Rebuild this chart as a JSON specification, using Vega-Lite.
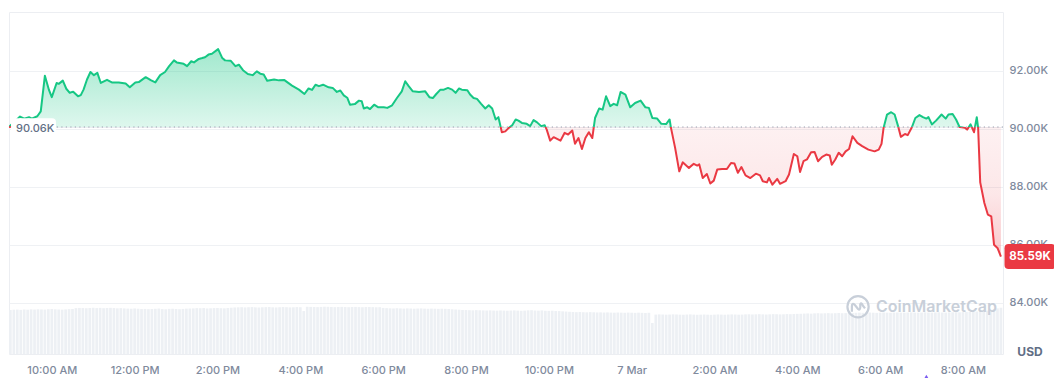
{
  "$schema": "https://vega.github.io/schema/vega-lite/v6.json",
  "padding": {"left": 7, "top": 11, "right": 0, "bottom": 0},
  "background": "white",
  "config": {
    "view": {"stroke": "#eceef2", "strokeWidth": 1},
    "font": "Inter",
    "scale": {"continuousPadding": 0},
    "axis": {"labelFont": "Inter", "labelFontSize": 11, "labelColor": "#808a9d", "labelFontWeight": 500, "domain": false, "ticks": false, "title": null, "zindex": 0, "gridColor": "#eff1f4", "labelOverlap": false}
  },
  "datasets": {
    "price": [
      {"t":"2025-03-06T08:58","p":90060},{"t":"2025-03-06T09:05","p":90220},{"t":"2025-03-06T09:14","p":90420},{"t":"2025-03-06T09:20","p":90350},{"t":"2025-03-06T09:27","p":90400},{"t":"2025-03-06T09:31","p":90350},{"t":"2025-03-06T09:39","p":90430},{"t":"2025-03-06T09:44","p":90600},{"t":"2025-03-06T09:50","p":91830},{"t":"2025-03-06T09:56","p":91330},
      {"t":"2025-03-06T10:00","p":91090},{"t":"2025-03-06T10:07","p":91580},{"t":"2025-03-06T10:10","p":91550},{"t":"2025-03-06T10:16","p":91660},{"t":"2025-03-06T10:21","p":91380},{"t":"2025-03-06T10:26","p":91240},{"t":"2025-03-06T10:31","p":91280},{"t":"2025-03-06T10:38","p":91120},{"t":"2025-03-06T10:42","p":91160},{"t":"2025-03-06T10:46","p":91350},
      {"t":"2025-03-06T10:51","p":91700},{"t":"2025-03-06T10:56","p":91960},{"t":"2025-03-06T11:01","p":91850},{"t":"2025-03-06T11:06","p":91930},{"t":"2025-03-06T11:11","p":91580},{"t":"2025-03-06T11:20","p":91690},{"t":"2025-03-06T11:27","p":91600},{"t":"2025-03-06T11:37","p":91600},{"t":"2025-03-06T11:47","p":91560},{"t":"2025-03-06T11:53","p":91430},
      {"t":"2025-03-06T12:01","p":91600},{"t":"2025-03-06T12:06","p":91610},{"t":"2025-03-06T12:16","p":91780},{"t":"2025-03-06T12:24","p":91670},{"t":"2025-03-06T12:30","p":91600},{"t":"2025-03-06T12:37","p":91850},{"t":"2025-03-06T12:44","p":91960},{"t":"2025-03-06T12:50","p":92160},{"t":"2025-03-06T12:57","p":92360},{"t":"2025-03-06T13:01","p":92290},
      {"t":"2025-03-06T13:11","p":92240},{"t":"2025-03-06T13:16","p":92160},{"t":"2025-03-06T13:22","p":92330},{"t":"2025-03-06T13:26","p":92290},{"t":"2025-03-06T13:33","p":92410},{"t":"2025-03-06T13:38","p":92440},{"t":"2025-03-06T13:42","p":92470},{"t":"2025-03-06T13:47","p":92560},{"t":"2025-03-06T13:52","p":92590},{"t":"2025-03-06T14:01","p":92750},
      {"t":"2025-03-06T14:07","p":92440},{"t":"2025-03-06T14:11","p":92360},{"t":"2025-03-06T14:19","p":92350},{"t":"2025-03-06T14:26","p":92160},{"t":"2025-03-06T14:31","p":92210},{"t":"2025-03-06T14:37","p":92020},{"t":"2025-03-06T14:44","p":91890},{"t":"2025-03-06T14:51","p":91850},{"t":"2025-03-06T14:57","p":91980},{"t":"2025-03-06T15:02","p":91900},
      {"t":"2025-03-06T15:07","p":91870},{"t":"2025-03-06T15:12","p":91660},{"t":"2025-03-06T15:22","p":91700},{"t":"2025-03-06T15:29","p":91670},{"t":"2025-03-06T15:37","p":91680},{"t":"2025-03-06T15:48","p":91490},{"t":"2025-03-06T15:58","p":91350},{"t":"2025-03-06T16:06","p":91200},{"t":"2025-03-06T16:12","p":91390},{"t":"2025-03-06T16:17","p":91340},
      {"t":"2025-03-06T16:22","p":91520},{"t":"2025-03-06T16:27","p":91470},{"t":"2025-03-06T16:33","p":91520},{"t":"2025-03-06T16:41","p":91430},{"t":"2025-03-06T16:47","p":91410},{"t":"2025-03-06T16:53","p":91270},{"t":"2025-03-06T16:58","p":91320},{"t":"2025-03-06T17:03","p":91150},{"t":"2025-03-06T17:08","p":91070},{"t":"2025-03-06T17:12","p":90830},
      {"t":"2025-03-06T17:19","p":90850},{"t":"2025-03-06T17:25","p":90970},{"t":"2025-03-06T17:29","p":90950},{"t":"2025-03-06T17:32","p":90700},{"t":"2025-03-06T17:37","p":90740},{"t":"2025-03-06T17:41","p":90680},{"t":"2025-03-06T17:47","p":90830},{"t":"2025-03-06T17:53","p":90740},{"t":"2025-03-06T18:01","p":90740},{"t":"2025-03-06T18:06","p":90720},
      {"t":"2025-03-06T18:13","p":90810},{"t":"2025-03-06T18:20","p":91060},{"t":"2025-03-06T18:27","p":91290},{"t":"2025-03-06T18:32","p":91640},{"t":"2025-03-06T18:37","p":91470},{"t":"2025-03-06T18:43","p":91290},{"t":"2025-03-06T18:52","p":91270},{"t":"2025-03-06T19:01","p":91290},{"t":"2025-03-06T19:07","p":91090},{"t":"2025-03-06T19:12","p":91060},
      {"t":"2025-03-06T19:17","p":91200},{"t":"2025-03-06T19:23","p":91350},{"t":"2025-03-06T19:28","p":91350},{"t":"2025-03-06T19:34","p":91410},{"t":"2025-03-06T19:40","p":91350},{"t":"2025-03-06T19:45","p":91240},{"t":"2025-03-06T19:50","p":91390},{"t":"2025-03-06T19:54","p":91350},{"t":"2025-03-06T20:02","p":91330},{"t":"2025-03-06T20:06","p":91180},
      {"t":"2025-03-06T20:11","p":91060},{"t":"2025-03-06T20:16","p":91030},{"t":"2025-03-06T20:22","p":90860},{"t":"2025-03-06T20:28","p":90700},{"t":"2025-03-06T20:33","p":90810},{"t":"2025-03-06T20:38","p":90700},{"t":"2025-03-06T20:43","p":90320},{"t":"2025-03-06T20:47","p":90400},{"t":"2025-03-06T20:52","p":89880},{"t":"2025-03-06T20:57","p":89910},
      {"t":"2025-03-06T21:02","p":90030},{"t":"2025-03-06T21:07","p":90120},{"t":"2025-03-06T21:12","p":90320},{"t":"2025-03-06T21:16","p":90280},{"t":"2025-03-06T21:21","p":90200},{"t":"2025-03-06T21:28","p":90170},{"t":"2025-03-06T21:33","p":90090},{"t":"2025-03-06T21:38","p":90300},{"t":"2025-03-06T21:43","p":90220},{"t":"2025-03-06T21:49","p":90090},
      {"t":"2025-03-06T21:54","p":90120},{"t":"2025-03-06T21:57","p":89970},{"t":"2025-03-06T22:02","p":89590},{"t":"2025-03-06T22:07","p":89710},{"t":"2025-03-06T22:12","p":89650},{"t":"2025-03-06T22:17","p":89590},{"t":"2025-03-06T22:23","p":89860},{"t":"2025-03-06T22:28","p":89800},{"t":"2025-03-06T22:34","p":89940},{"t":"2025-03-06T22:38","p":89480},
      {"t":"2025-03-06T22:43","p":89680},{"t":"2025-03-06T22:48","p":89300},{"t":"2025-03-06T22:53","p":89680},{"t":"2025-03-06T22:58","p":89880},{"t":"2025-03-06T23:03","p":89680},{"t":"2025-03-06T23:07","p":90370},{"t":"2025-03-06T23:13","p":90700},{"t":"2025-03-06T23:18","p":90660},{"t":"2025-03-06T23:23","p":91120},{"t":"2025-03-06T23:29","p":90780},
      {"t":"2025-03-06T23:34","p":90860},{"t":"2025-03-06T23:39","p":90810},{"t":"2025-03-06T23:44","p":91270},{"t":"2025-03-06T23:51","p":91180},{"t":"2025-03-06T23:58","p":90740},{"t":"2025-03-07T00:05","p":90890},{"t":"2025-03-07T00:13","p":90970},{"t":"2025-03-07T00:20","p":90740},{"t":"2025-03-07T00:25","p":90720},{"t":"2025-03-07T00:30","p":90370},
      {"t":"2025-03-07T00:37","p":90350},{"t":"2025-03-07T00:43","p":90170},{"t":"2025-03-07T00:50","p":90160},{"t":"2025-03-07T00:55","p":90320},{"t":"2025-03-07T00:57","p":90030},{"t":"2025-03-07T01:03","p":89340},{"t":"2025-03-07T01:09","p":88530},{"t":"2025-03-07T01:14","p":88840},{"t":"2025-03-07T01:23","p":88650},{"t":"2025-03-07T01:30","p":88790},
      {"t":"2025-03-07T01:35","p":88730},{"t":"2025-03-07T01:38","p":88770},{"t":"2025-03-07T01:43","p":88300},{"t":"2025-03-07T01:49","p":88440},{"t":"2025-03-07T01:54","p":88110},{"t":"2025-03-07T01:59","p":88210},{"t":"2025-03-07T02:04","p":88590},{"t":"2025-03-07T02:11","p":88610},{"t":"2025-03-07T02:18","p":88610},{"t":"2025-03-07T02:24","p":88820},
      {"t":"2025-03-07T02:29","p":88800},{"t":"2025-03-07T02:34","p":88480},{"t":"2025-03-07T02:39","p":88680},{"t":"2025-03-07T02:45","p":88390},{"t":"2025-03-07T02:52","p":88300},{"t":"2025-03-07T03:00","p":88450},{"t":"2025-03-07T03:06","p":88390},{"t":"2025-03-07T03:10","p":88190},{"t":"2025-03-07T03:16","p":88150},{"t":"2025-03-07T03:19","p":88300},
      {"t":"2025-03-07T03:24","p":88070},{"t":"2025-03-07T03:31","p":88270},{"t":"2025-03-07T03:35","p":88100},{"t":"2025-03-07T03:43","p":88190},{"t":"2025-03-07T03:48","p":88420},{"t":"2025-03-07T03:55","p":89130},{"t":"2025-03-07T04:00","p":89050},{"t":"2025-03-07T04:04","p":88510},{"t":"2025-03-07T04:09","p":88880},{"t":"2025-03-07T04:14","p":88940},
      {"t":"2025-03-07T04:20","p":89190},{"t":"2025-03-07T04:25","p":89200},{"t":"2025-03-07T04:30","p":88880},{"t":"2025-03-07T04:36","p":89030},{"t":"2025-03-07T04:42","p":89110},{"t":"2025-03-07T04:47","p":89080},{"t":"2025-03-07T04:50","p":88760},{"t":"2025-03-07T04:55","p":88940},{"t":"2025-03-07T05:00","p":89170},{"t":"2025-03-07T05:05","p":89050},
      {"t":"2025-03-07T05:10","p":89220},{"t":"2025-03-07T05:15","p":89300},{"t":"2025-03-07T05:20","p":89740},{"t":"2025-03-07T05:27","p":89510},{"t":"2025-03-07T05:34","p":89400},{"t":"2025-03-07T05:43","p":89280},{"t":"2025-03-07T05:52","p":89220},{"t":"2025-03-07T05:58","p":89280},{"t":"2025-03-07T06:02","p":89480},{"t":"2025-03-07T06:05","p":90030},
      {"t":"2025-03-07T06:10","p":90490},{"t":"2025-03-07T06:16","p":90570},{"t":"2025-03-07T06:21","p":90490},{"t":"2025-03-07T06:26","p":90090},{"t":"2025-03-07T06:30","p":89720},{"t":"2025-03-07T06:36","p":89820},{"t":"2025-03-07T06:40","p":89780},{"t":"2025-03-07T06:46","p":90050},{"t":"2025-03-07T06:51","p":90370},{"t":"2025-03-07T06:57","p":90470},
      {"t":"2025-03-07T07:02","p":90400},{"t":"2025-03-07T07:07","p":90350},{"t":"2025-03-07T07:10","p":90400},{"t":"2025-03-07T07:15","p":90150},{"t":"2025-03-07T07:21","p":90280},{"t":"2025-03-07T07:29","p":90490},{"t":"2025-03-07T07:35","p":90350},{"t":"2025-03-07T07:39","p":90490},{"t":"2025-03-07T07:45","p":90510},{"t":"2025-03-07T07:50","p":90320},
      {"t":"2025-03-07T07:55","p":90060},{"t":"2025-03-07T08:03","p":90030},{"t":"2025-03-07T08:06","p":89970},{"t":"2025-03-07T08:11","p":90150},{"t":"2025-03-07T08:16","p":89880},{"t":"2025-03-07T08:20","p":90400},{"t":"2025-03-07T08:22","p":90020},{"t":"2025-03-07T08:25","p":88150},{"t":"2025-03-07T08:31","p":87440},{"t":"2025-03-07T08:36","p":87040},
      {"t":"2025-03-07T08:41","p":86980},{"t":"2025-03-07T08:45","p":86000},{"t":"2025-03-07T08:50","p":85890},{"t":"2025-03-07T08:55","p":85590}
    ],
    "vol": [
      {"t":"2025-03-06T09:00","v":970},{"t":"2025-03-06T09:05","v":975},{"t":"2025-03-06T09:10","v":978},{"t":"2025-03-06T09:15","v":972},{"t":"2025-03-06T09:20","v":980},{"t":"2025-03-06T09:25","v":976},{"t":"2025-03-06T09:30","v":983},{"t":"2025-03-06T09:35","v":979},{"t":"2025-03-06T09:40","v":985},{"t":"2025-03-06T09:45","v":981},{"t":"2025-03-06T09:50","v":978},{"t":"2025-03-06T09:55","v":986},
      {"t":"2025-03-06T10:00","v":990},{"t":"2025-03-06T10:05","v":984},{"t":"2025-03-06T10:10","v":980},{"t":"2025-03-06T10:15","v":977},{"t":"2025-03-06T10:20","v":982},{"t":"2025-03-06T10:25","v":988},{"t":"2025-03-06T10:30","v":992},{"t":"2025-03-06T10:35","v":1010},{"t":"2025-03-06T10:40","v":1015},{"t":"2025-03-06T10:45","v":1012},{"t":"2025-03-06T10:50","v":1008},{"t":"2025-03-06T10:55","v":1014},
      {"t":"2025-03-06T11:00","v":1018},{"t":"2025-03-06T11:05","v":1011},{"t":"2025-03-06T11:10","v":1016},{"t":"2025-03-06T11:15","v":1009},{"t":"2025-03-06T11:20","v":1013},{"t":"2025-03-06T11:25","v":1017},{"t":"2025-03-06T11:30","v":1012},{"t":"2025-03-06T11:35","v":1006},{"t":"2025-03-06T11:40","v":1010},{"t":"2025-03-06T11:45","v":1004},{"t":"2025-03-06T11:50","v":1000},{"t":"2025-03-06T11:55","v":998},
      {"t":"2025-03-06T12:00","v":1003},{"t":"2025-03-06T12:05","v":995},{"t":"2025-03-06T12:10","v":990},{"t":"2025-03-06T12:15","v":993},{"t":"2025-03-06T12:20","v":988},{"t":"2025-03-06T12:25","v":992},{"t":"2025-03-06T12:30","v":996},{"t":"2025-03-06T12:35","v":1001},{"t":"2025-03-06T12:40","v":989},{"t":"2025-03-06T12:45","v":985},{"t":"2025-03-06T12:50","v":994},{"t":"2025-03-06T12:55","v":997},
      {"t":"2025-03-06T13:00","v":991},{"t":"2025-03-06T13:05","v":987},{"t":"2025-03-06T13:10","v":993},{"t":"2025-03-06T13:15","v":999},{"t":"2025-03-06T13:20","v":1002},{"t":"2025-03-06T13:25","v":1005},{"t":"2025-03-06T13:30","v":1010},{"t":"2025-03-06T13:35","v":1008},{"t":"2025-03-06T13:40","v":1012},{"t":"2025-03-06T13:45","v":1003},{"t":"2025-03-06T13:50","v":1007},{"t":"2025-03-06T13:55","v":1011},
      {"t":"2025-03-06T14:00","v":1014},{"t":"2025-03-06T14:05","v":1009},{"t":"2025-03-06T14:10","v":1006},{"t":"2025-03-06T14:15","v":1013},{"t":"2025-03-06T14:20","v":1020},{"t":"2025-03-06T14:25","v":1025},{"t":"2025-03-06T14:30","v":1028},{"t":"2025-03-06T14:35","v":1031},{"t":"2025-03-06T14:40","v":1026},{"t":"2025-03-06T14:45","v":1030},{"t":"2025-03-06T14:50","v":1033},{"t":"2025-03-06T14:55","v":1027},
      {"t":"2025-03-06T15:00","v":1024},{"t":"2025-03-06T15:05","v":1029},{"t":"2025-03-06T15:10","v":1032},{"t":"2025-03-06T15:15","v":1035},{"t":"2025-03-06T15:20","v":1028},{"t":"2025-03-06T15:25","v":1025},{"t":"2025-03-06T15:30","v":1030},{"t":"2025-03-06T15:35","v":1034},{"t":"2025-03-06T15:40","v":1031},{"t":"2025-03-06T15:45","v":1027},{"t":"2025-03-06T15:50","v":1029},{"t":"2025-03-06T15:55","v":1033},
      {"t":"2025-03-06T16:00","v":1030},{"t":"2025-03-06T16:05","v":946},{"t":"2025-03-06T16:10","v":1040},{"t":"2025-03-06T16:15","v":1038},{"t":"2025-03-06T16:20","v":1036},{"t":"2025-03-06T16:25","v":1033},{"t":"2025-03-06T16:30","v":1037},{"t":"2025-03-06T16:35","v":1041},{"t":"2025-03-06T16:40","v":1039},{"t":"2025-03-06T16:45","v":1035},{"t":"2025-03-06T16:50","v":1032},{"t":"2025-03-06T16:55","v":1036},
      {"t":"2025-03-06T17:00","v":1038},{"t":"2025-03-06T17:05","v":1034},{"t":"2025-03-06T17:10","v":1031},{"t":"2025-03-06T17:15","v":1035},{"t":"2025-03-06T17:20","v":1037},{"t":"2025-03-06T17:25","v":1033},{"t":"2025-03-06T17:30","v":1030},{"t":"2025-03-06T17:35","v":1034},{"t":"2025-03-06T17:40","v":1036},{"t":"2025-03-06T17:45","v":1032},{"t":"2025-03-06T17:50","v":1029},{"t":"2025-03-06T17:55","v":1031},
      {"t":"2025-03-06T18:00","v":1015},{"t":"2025-03-06T18:05","v":1010},{"t":"2025-03-06T18:10","v":1006},{"t":"2025-03-06T18:15","v":1003},{"t":"2025-03-06T18:20","v":1008},{"t":"2025-03-06T18:25","v":1004},{"t":"2025-03-06T18:30","v":1000},{"t":"2025-03-06T18:35","v":1005},{"t":"2025-03-06T18:40","v":1002},{"t":"2025-03-06T18:45","v":998},{"t":"2025-03-06T18:50","v":1001},{"t":"2025-03-06T18:55","v":1004},
      {"t":"2025-03-06T19:00","v":999},{"t":"2025-03-06T19:05","v":996},{"t":"2025-03-06T19:10","v":1000},{"t":"2025-03-06T19:15","v":997},{"t":"2025-03-06T19:20","v":994},{"t":"2025-03-06T19:25","v":998},{"t":"2025-03-06T19:30","v":995},{"t":"2025-03-06T19:35","v":991},{"t":"2025-03-06T19:40","v":985},{"t":"2025-03-06T19:45","v":980},{"t":"2025-03-06T19:50","v":975},{"t":"2025-03-06T19:55","v":970},
      {"t":"2025-03-06T20:00","v":968},{"t":"2025-03-06T20:05","v":965},{"t":"2025-03-06T20:10","v":962},{"t":"2025-03-06T20:15","v":966},{"t":"2025-03-06T20:20","v":963},{"t":"2025-03-06T20:25","v":960},{"t":"2025-03-06T20:30","v":958},{"t":"2025-03-06T20:35","v":961},{"t":"2025-03-06T20:40","v":957},{"t":"2025-03-06T20:45","v":955},{"t":"2025-03-06T20:50","v":959},{"t":"2025-03-06T20:55","v":956},
      {"t":"2025-03-06T21:00","v":953},{"t":"2025-03-06T21:05","v":957},{"t":"2025-03-06T21:10","v":960},{"t":"2025-03-06T21:15","v":955},{"t":"2025-03-06T21:20","v":952},{"t":"2025-03-06T21:25","v":956},{"t":"2025-03-06T21:30","v":962},{"t":"2025-03-06T21:35","v":965},{"t":"2025-03-06T21:40","v":958},{"t":"2025-03-06T21:45","v":955},{"t":"2025-03-06T21:50","v":960},{"t":"2025-03-06T21:55","v":952},
      {"t":"2025-03-06T22:00","v":950},{"t":"2025-03-06T22:05","v":954},{"t":"2025-03-06T22:10","v":948},{"t":"2025-03-06T22:15","v":945},{"t":"2025-03-06T22:20","v":940},{"t":"2025-03-06T22:25","v":935},{"t":"2025-03-06T22:30","v":930},{"t":"2025-03-06T22:35","v":926},{"t":"2025-03-06T22:40","v":922},{"t":"2025-03-06T22:45","v":925},{"t":"2025-03-06T22:50","v":920},{"t":"2025-03-06T22:55","v":918},
      {"t":"2025-03-06T23:00","v":922},{"t":"2025-03-06T23:05","v":919},{"t":"2025-03-06T23:10","v":915},{"t":"2025-03-06T23:15","v":917},{"t":"2025-03-06T23:20","v":913},{"t":"2025-03-06T23:25","v":916},{"t":"2025-03-06T23:30","v":912},{"t":"2025-03-06T23:35","v":910},{"t":"2025-03-06T23:40","v":914},{"t":"2025-03-06T23:45","v":911},{"t":"2025-03-06T23:50","v":908},{"t":"2025-03-06T23:55","v":912},
      {"t":"2025-03-07T00:00","v":909},{"t":"2025-03-07T00:05","v":906},{"t":"2025-03-07T00:10","v":910},{"t":"2025-03-07T00:15","v":907},{"t":"2025-03-07T00:20","v":904},{"t":"2025-03-07T00:25","v":908},{"t":"2025-03-07T00:30","v":682},{"t":"2025-03-07T00:35","v":868},{"t":"2025-03-07T00:40","v":872},{"t":"2025-03-07T00:45","v":870},{"t":"2025-03-07T00:50","v":866},{"t":"2025-03-07T00:55","v":869},
      {"t":"2025-03-07T01:00","v":873},{"t":"2025-03-07T01:05","v":871},{"t":"2025-03-07T01:10","v":867},{"t":"2025-03-07T01:15","v":865},{"t":"2025-03-07T01:20","v":869},{"t":"2025-03-07T01:25","v":872},{"t":"2025-03-07T01:30","v":868},{"t":"2025-03-07T01:35","v":864},{"t":"2025-03-07T01:40","v":867},{"t":"2025-03-07T01:45","v":870},{"t":"2025-03-07T01:50","v":866},{"t":"2025-03-07T01:55","v":863},
      {"t":"2025-03-07T02:00","v":867},{"t":"2025-03-07T02:05","v":871},{"t":"2025-03-07T02:10","v":868},{"t":"2025-03-07T02:15","v":865},{"t":"2025-03-07T02:20","v":869},{"t":"2025-03-07T02:25","v":872},{"t":"2025-03-07T02:30","v":870},{"t":"2025-03-07T02:35","v":866},{"t":"2025-03-07T02:40","v":868},{"t":"2025-03-07T02:45","v":873},{"t":"2025-03-07T02:50","v":875},{"t":"2025-03-07T02:55","v":871},
      {"t":"2025-03-07T03:00","v":874},{"t":"2025-03-07T03:05","v":877},{"t":"2025-03-07T03:10","v":873},{"t":"2025-03-07T03:15","v":870},{"t":"2025-03-07T03:20","v":874},{"t":"2025-03-07T03:25","v":878},{"t":"2025-03-07T03:30","v":876},{"t":"2025-03-07T03:35","v":872},{"t":"2025-03-07T03:40","v":875},{"t":"2025-03-07T03:45","v":879},{"t":"2025-03-07T03:50","v":877},{"t":"2025-03-07T03:55","v":881},
      {"t":"2025-03-07T04:00","v":884},{"t":"2025-03-07T04:05","v":886},{"t":"2025-03-07T04:10","v":890},{"t":"2025-03-07T04:15","v":893},{"t":"2025-03-07T04:20","v":889},{"t":"2025-03-07T04:25","v":895},{"t":"2025-03-07T04:30","v":898},{"t":"2025-03-07T04:35","v":894},{"t":"2025-03-07T04:40","v":897},{"t":"2025-03-07T04:45","v":900},{"t":"2025-03-07T04:50","v":896},{"t":"2025-03-07T04:55","v":899},
      {"t":"2025-03-07T05:00","v":903},{"t":"2025-03-07T05:05","v":898},{"t":"2025-03-07T05:10","v":901},{"t":"2025-03-07T05:15","v":904},{"t":"2025-03-07T05:20","v":905},{"t":"2025-03-07T05:25","v":908},{"t":"2025-03-07T05:30","v":911},{"t":"2025-03-07T05:35","v":907},{"t":"2025-03-07T05:40","v":910},{"t":"2025-03-07T05:45","v":913},{"t":"2025-03-07T05:50","v":909},{"t":"2025-03-07T05:55","v":906},
      {"t":"2025-03-07T06:00","v":910},{"t":"2025-03-07T06:05","v":914},{"t":"2025-03-07T06:10","v":911},{"t":"2025-03-07T06:15","v":908},{"t":"2025-03-07T06:20","v":912},{"t":"2025-03-07T06:25","v":915},{"t":"2025-03-07T06:30","v":911},{"t":"2025-03-07T06:35","v":909},{"t":"2025-03-07T06:40","v":913},{"t":"2025-03-07T06:45","v":916},{"t":"2025-03-07T06:50","v":912},{"t":"2025-03-07T06:55","v":910},
      {"t":"2025-03-07T07:00","v":914},{"t":"2025-03-07T07:05","v":917},{"t":"2025-03-07T07:10","v":913},{"t":"2025-03-07T07:15","v":911},{"t":"2025-03-07T07:20","v":915},{"t":"2025-03-07T07:25","v":918},{"t":"2025-03-07T07:30","v":914},{"t":"2025-03-07T07:35","v":912},{"t":"2025-03-07T07:40","v":916},{"t":"2025-03-07T07:45","v":919},{"t":"2025-03-07T07:50","v":921},{"t":"2025-03-07T07:55","v":918},
      {"t":"2025-03-07T08:00","v":922},{"t":"2025-03-07T08:05","v":925},{"t":"2025-03-07T08:10","v":928},{"t":"2025-03-07T08:15","v":932},{"t":"2025-03-07T08:20","v":936},{"t":"2025-03-07T08:25","v":941},{"t":"2025-03-07T08:30","v":948},{"t":"2025-03-07T08:35","v":955},{"t":"2025-03-07T08:40","v":975},{"t":"2025-03-07T08:45","v":990},{"t":"2025-03-07T08:50","v":1005},{"t":"2025-03-07T08:55","v":1020}
    ]
  },
  "vconcat": [
    {
      "width": 994,
      "height": 115,
      "data": {"name": "price"},
      "layer": [
        {
          "mark": {"type": "area", "clip": true, "interpolate": "linear",
            "fill": {"gradient": "linear", "x1": 0, "y1": 0, "x2": 0, "y2": 1,
              "stops": [{"offset": 0, "color": "rgba(22,199,132,0.40)"}, {"offset": 0.3755, "color": "rgba(22,199,132,0.14)"}, {"offset": 1, "color": "rgba(22,199,132,0.0)"}]}},
          "encoding": {
            "x": {"field": "t", "type": "temporal", "scale": {"domain": [{"year": 2025, "month": 3, "date": 6, "hours": 8, "minutes": 58}, {"year": 2025, "month": 3, "date": 7, "hours": 8, "minutes": 58}], "padding": 0}, "axis": null},
            "y": {"field": "p", "type": "quantitative", "scale": {"domain": [90060, 94030], "zero": false, "nice": false},
              "axis": {"orient": "right", "values": [92000], "labelExpr": "format(datum.value/1000, '.2f') + 'K'", "grid": true, "labelPadding": 6}},
            "y2": {"datum": 90060}
          }
        },
        {
          "mark": {"type": "line", "clip": true, "color": "#16c784", "strokeWidth": 2, "strokeJoin": "round"},
          "encoding": {
            "x": {"field": "t", "type": "temporal"},
            "y": {"field": "p", "type": "quantitative"}
          }
        }
      ]
    },
    {
      "width": 994,
      "height": 227,
      "layer": [
        {
          "data": {"name": "vol"},
          "mark": {"type": "bar", "width": 2.7, "color": "#edf0f4"},
          "encoding": {
            "x": {"field": "t", "type": "temporal", "scale": {"domain": [{"year": 2025, "month": 3, "date": 6, "hours": 8, "minutes": 58}, {"year": 2025, "month": 3, "date": 7, "hours": 8, "minutes": 58}], "padding": 0},
              "axis": {"orient": "bottom", "grid": false, "labelPadding": 10,
                "values": [{"year": 2025, "month": 3, "date": 6, "hours": 10}, {"year": 2025, "month": 3, "date": 6, "hours": 12}, {"year": 2025, "month": 3, "date": 6, "hours": 14}, {"year": 2025, "month": 3, "date": 6, "hours": 16}, {"year": 2025, "month": 3, "date": 6, "hours": 18}, {"year": 2025, "month": 3, "date": 6, "hours": 20}, {"year": 2025, "month": 3, "date": 6, "hours": 22}, {"year": 2025, "month": 3, "date": 7, "hours": 0}, {"year": 2025, "month": 3, "date": 7, "hours": 2}, {"year": 2025, "month": 3, "date": 7, "hours": 4}, {"year": 2025, "month": 3, "date": 7, "hours": 6}, {"year": 2025, "month": 3, "date": 7, "hours": 8}],
                "labelExpr": "hours(datum.value) == 0 ? timeFormat(datum.value, '%-d %b') : timeFormat(datum.value, '%-I:%M %p')"}},
            "y": {"field": "v", "type": "quantitative", "scale": {"domain": [0, 5000]}, "axis": null}
          }
        },
        {
          "layer": [
            {
              "data": {"name": "price"},
              "mark": {"type": "area", "clip": true, "interpolate": "linear",
                "fill": {"gradient": "linear", "x1": 0, "y1": 0, "x2": 0, "y2": 1,
                  "stops": [{"offset": 0, "color": "rgba(234,57,67,0.07)"}, {"offset": 0.3755, "color": "rgba(234,57,67,0.07)"}, {"offset": 0.7, "color": "rgba(234,57,67,0.12)"}, {"offset": 1, "color": "rgba(234,57,67,0.28)"}]}},
              "encoding": {
                "x": {"field": "t", "type": "temporal"},
                "y": {"field": "p", "type": "quantitative", "scale": {"domain": [82230, 90060], "zero": false, "nice": false},
                  "axis": {"orient": "right", "values": [84000, 86000, 88000, 90000], "labelExpr": "format(datum.value/1000, '.2f') + 'K'", "grid": true, "labelPadding": 6}},
                "y2": {"datum": 90060}
              }
            },
            {
              "data": {"name": "price"},
              "mark": {"type": "line", "clip": true, "color": "#ea3943", "strokeWidth": 2, "strokeJoin": "round"},
              "encoding": {
                "x": {"field": "t", "type": "temporal"},
                "y": {"field": "p", "type": "quantitative"}
              }
            },
            {
              "data": {"values": [{}]},
              "mark": {"type": "rule", "color": "#9aa1b0", "strokeDash": [1.2, 3.3], "strokeWidth": 1.2},
              "encoding": {"y": {"datum": 90060}}
            },
            {
              "data": {"values": [{}]},
              "mark": {"type": "point", "shape": "M-0.82,-0.444L0.82,-0.444Q1,-0.444 1,-0.27L1,0.27Q1,0.444 0.82,0.444L-0.82,0.444Q-1,0.444 -1,0.27L-1,-0.27Q-1,-0.444 -0.82,-0.444Z", "size": 2025, "filled": true, "color": "white", "opacity": 1, "strokeWidth": 0, "xOffset": 24.5, "yOffset": 1.2},
              "encoding": {"x": {"datum": {"year": 2025, "month": 3, "date": 6, "hours": 8, "minutes": 58}, "type": "temporal"}, "y": {"datum": 90060}}
            },
            {
              "data": {"values": [{}]},
              "mark": {"type": "text", "text": "90.06K", "align": "left", "baseline": "middle", "dx": 7, "dy": 2, "fontSize": 11, "fontWeight": 500, "font": "Inter", "color": "#616e85"},
              "encoding": {"x": {"datum": {"year": 2025, "month": 3, "date": 6, "hours": 8, "minutes": 58}, "type": "temporal"}, "y": {"datum": 90060}}
            },
            {
              "data": {"values": [{}]},
              "mark": {"type": "point", "filled": true, "color": "#ea3943", "size": 5, "opacity": 1, "xOffset": 1},
              "encoding": {"x": {"datum": {"year": 2025, "month": 3, "date": 6, "hours": 8, "minutes": 58}, "type": "temporal"}, "y": {"datum": 90060}}
            },
            {
              "data": {"values": [{}]},
              "mark": {"type": "point", "shape": "M-0.84,-0.49L0.84,-0.49Q1,-0.49 1,-0.33L1,0.33Q1,0.49 0.84,0.49L-0.84,0.49Q-1,0.49 -1,0.33L-1,-0.33Q-1,-0.49 -0.84,-0.49Z", "size": 2601, "filled": true, "color": "#ea3943", "opacity": 1, "strokeWidth": 0, "xOffset": 27},
              "encoding": {"x": {"datum": {"year": 2025, "month": 3, "date": 7, "hours": 8, "minutes": 58}, "type": "temporal"}, "y": {"datum": 85590}}
            },
            {
              "data": {"values": [{}]},
              "mark": {"type": "text", "text": "85.59K", "align": "center", "baseline": "middle", "dx": 27, "fontSize": 11.5, "fontWeight": 700, "font": "Inter", "color": "white"},
              "encoding": {"x": {"datum": {"year": 2025, "month": 3, "date": 7, "hours": 8, "minutes": 58}, "type": "temporal"}, "y": {"datum": 85590}}
            },
            {
              "data": {"values": [{}]},
              "mark": {"type": "text", "text": "USD", "align": "center", "baseline": "middle", "dx": 27, "dy": -2, "fontSize": 12, "fontWeight": 700, "font": "Inter", "color": "#616e85"},
              "encoding": {"x": {"datum": {"year": 2025, "month": 3, "date": 7, "hours": 8, "minutes": 58}, "type": "temporal"}, "y": {"datum": 82230}}
            },
            {
              "data": {"values": [{}]},
              "mark": {"type": "point", "shape": "M0.95,0A0.95,0.95 0 1,1 -0.95,0A0.95,0.95 0 1,1 0.95,0ZM-0.55,0.45L-0.55,-0.05Q-0.55,-0.4 -0.28,-0.15L0,0.2Q0.18,0.36 0.2,0.05L0.2,-0.22Q0.3,-0.4 0.42,-0.12L0.62,0.15", "size": 500, "filled": false, "color": "#c8cfd9", "strokeWidth": 2.2, "opacity": 1},
              "encoding": {"x": {"datum": {"year": 2025, "month": 3, "date": 7, "hours": 5, "minutes": 28}, "type": "temporal"}, "y": {"datum": 83860}}
            },
            {
              "data": {"values": [{}]},
              "mark": {"type": "text", "text": "CoinMarketCap", "align": "left", "baseline": "middle", "dx": 18, "fontSize": 16, "fontWeight": 600, "font": "Inter", "color": "#c8cfd9"},
              "encoding": {"x": {"datum": {"year": 2025, "month": 3, "date": 7, "hours": 5, "minutes": 28}, "type": "temporal"}, "y": {"datum": 83860}}
            },
            {
              "data": {"values": [{}]},
              "mark": {"type": "point", "shape": "triangle-up", "size": 30, "filled": true, "color": "#7b5cf0", "opacity": 1},
              "encoding": {"x": {"datum": {"year": 2025, "month": 3, "date": 7, "hours": 7, "minutes": 7}, "type": "temporal"}, "y": {"datum": 81430}}
            }
          ]
        }
      ],
      "resolve": {"scale": {"y": "independent"}}
    }
  ],
  "spacing": 0,
  "bounds": "flush",
  "resolve": {"scale": {"y": "independent", "x": "independent"}}
}
